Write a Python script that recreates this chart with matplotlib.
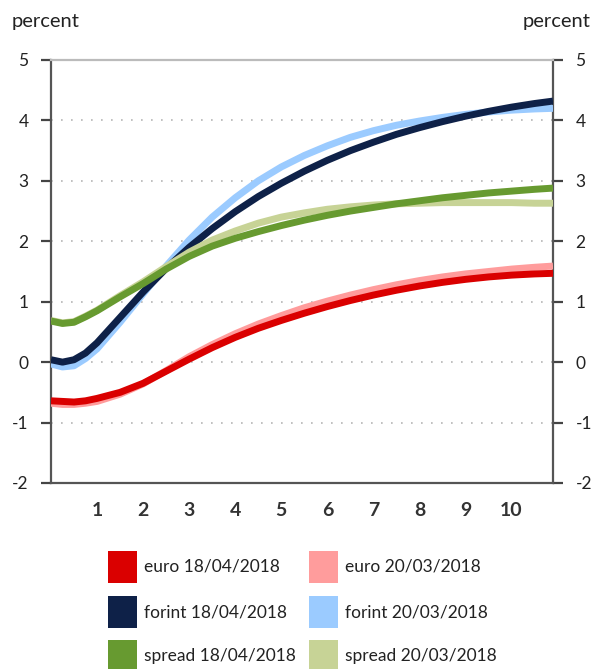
import matplotlib.pyplot as plt
from matplotlib.patches import Rectangle

plt.rcParams['font.family'] = ['Lato', 'DejaVu Sans']
plt.rcParams['axes.unicode_minus'] = False

W, H = 593, 669

# maturity (years)
maturity = [0, 0.25, 0.5, 0.75, 1, 1.5, 2, 2.5, 3, 3.5, 4, 4.5, 5, 5.5, 6, 6.5, 7,
            7.5, 8, 8.5, 9, 9.5, 10, 10.5, 10.9]

euro_apr = [-0.64, -0.65, -0.66, -0.64, -0.60, -0.50, -0.35, -0.15, 0.05, 0.24, 0.41,
            0.56, 0.69, 0.81, 0.92, 1.02, 1.11, 1.19, 1.26, 1.32, 1.37, 1.41,
            1.44, 1.46, 1.47]
euro_mar = [-0.68, -0.70, -0.70, -0.68, -0.65, -0.53, -0.36, -0.14, 0.09, 0.29, 0.47,
            0.63, 0.77, 0.90, 1.01, 1.11, 1.20, 1.28, 1.35, 1.41, 1.46, 1.50,
            1.54, 1.57, 1.59]
forint_apr = [0.04, 0.00, 0.04, 0.15, 0.32, 0.74, 1.16, 1.55, 1.90, 2.21, 2.49,
              2.74, 2.96, 3.16, 3.34, 3.50, 3.64, 3.77, 3.88, 3.98, 4.07, 4.15,
              4.22, 4.28, 4.32]
forint_mar = [-0.03, -0.08, -0.06, 0.06, 0.22, 0.66, 1.13, 1.59, 2.02, 2.40, 2.72,
              3.00, 3.23, 3.42, 3.58, 3.72, 3.83, 3.92, 3.99, 4.05, 4.10, 4.14,
              4.17, 4.19, 4.20]
spread_apr = [0.68, 0.64, 0.66, 0.75, 0.85, 1.08, 1.30, 1.54, 1.75, 1.92, 2.05,
              2.16, 2.26, 2.35, 2.43, 2.50, 2.56, 2.62, 2.67, 2.72, 2.76, 2.80,
              2.83, 2.86, 2.88]
spread_mar = [0.69, 0.65, 0.67, 0.76, 0.86, 1.10, 1.33, 1.58, 1.82, 2.02, 2.17,
              2.30, 2.40, 2.47, 2.53, 2.57, 2.60, 2.62, 2.63, 2.64, 2.64, 2.64,
              2.64, 2.63, 2.63]

labels = ["euro 18/04/2018", "euro 20/03/2018",
          "forint 18/04/2018", "forint 20/03/2018",
          "spread 18/04/2018", "spread 20/03/2018"]
colors = ["#DA0000", "#FF9C9C", "#0E2148", "#9BCBFF", "#679A30", "#C7D396"]
series = [euro_apr, euro_mar, forint_apr, forint_mar, spread_apr, spread_mar]

fig = plt.figure(figsize=(W / 100, H / 100), dpi=100)
ax = fig.add_axes([51 / W, 1 - 483 / H, 502 / W, 423 / H])

# older curves first, newer on top
for i in [1, 0, 3, 2, 5, 4]:
    ax.plot(maturity, series[i], color=colors[i], lw=5, solid_capstyle='butt',
            solid_joinstyle='round', zorder=3)

ax.set_xlim(0, 10.9)
ax.set_ylim(-2, 5)
ax.set_yticks(range(-2, 6))
ax.set_xticks(range(1, 11))
ax.set_xticklabels([str(i) for i in range(1, 11)], fontsize=14, fontweight='bold', color='#333333')
ax.tick_params(axis='x', length=0, pad=14)
ax.tick_params(axis='y', direction='out', length=7.2, width=1.6, color='#444444',
               labelsize=12.5, labelcolor='#222222', right=True, labelright=True, pad=9)
for v in range(-1, 5):
    ax.axhline(v, color='#b5b5b5', lw=1.2, ls=(0, (1, 5)), zorder=1)

for s in ['left', 'right', 'bottom']:
    ax.spines[s].set_color('#555555')
    ax.spines[s].set_linewidth(1.6)
ax.spines['top'].set_color('#bbbbbb')
ax.spines['top'].set_linewidth(1.6)

fig.text(12 / W, 1 - 22 / H, "percent", fontsize=14.5, va='center', ha='left', color='#222222')
fig.text(591 / W, 1 - 22 / H, "percent", fontsize=14.5, va='center', ha='right', color='#222222')

# legend: two columns, three rows of colour squares
row_tops = [551, 596, 640]
col_x = [108, 309]
for k, (lab, c) in enumerate(zip(labels, colors)):
    row, col = k // 2, k % 2
    x0, y0 = col_x[col], row_tops[row]
    fig.add_artist(Rectangle((x0 / W, 1 - (y0 + 32) / H), 29 / W, 32 / H,
                             transform=fig.transFigure, facecolor=c, edgecolor='none'))
    fig.text((x0 + 36) / W, 1 - (y0 + 16) / H, lab, fontsize=12.5, va='center',
             ha='left', color='#222222')

fig.savefig("out.png", dpi=100)
